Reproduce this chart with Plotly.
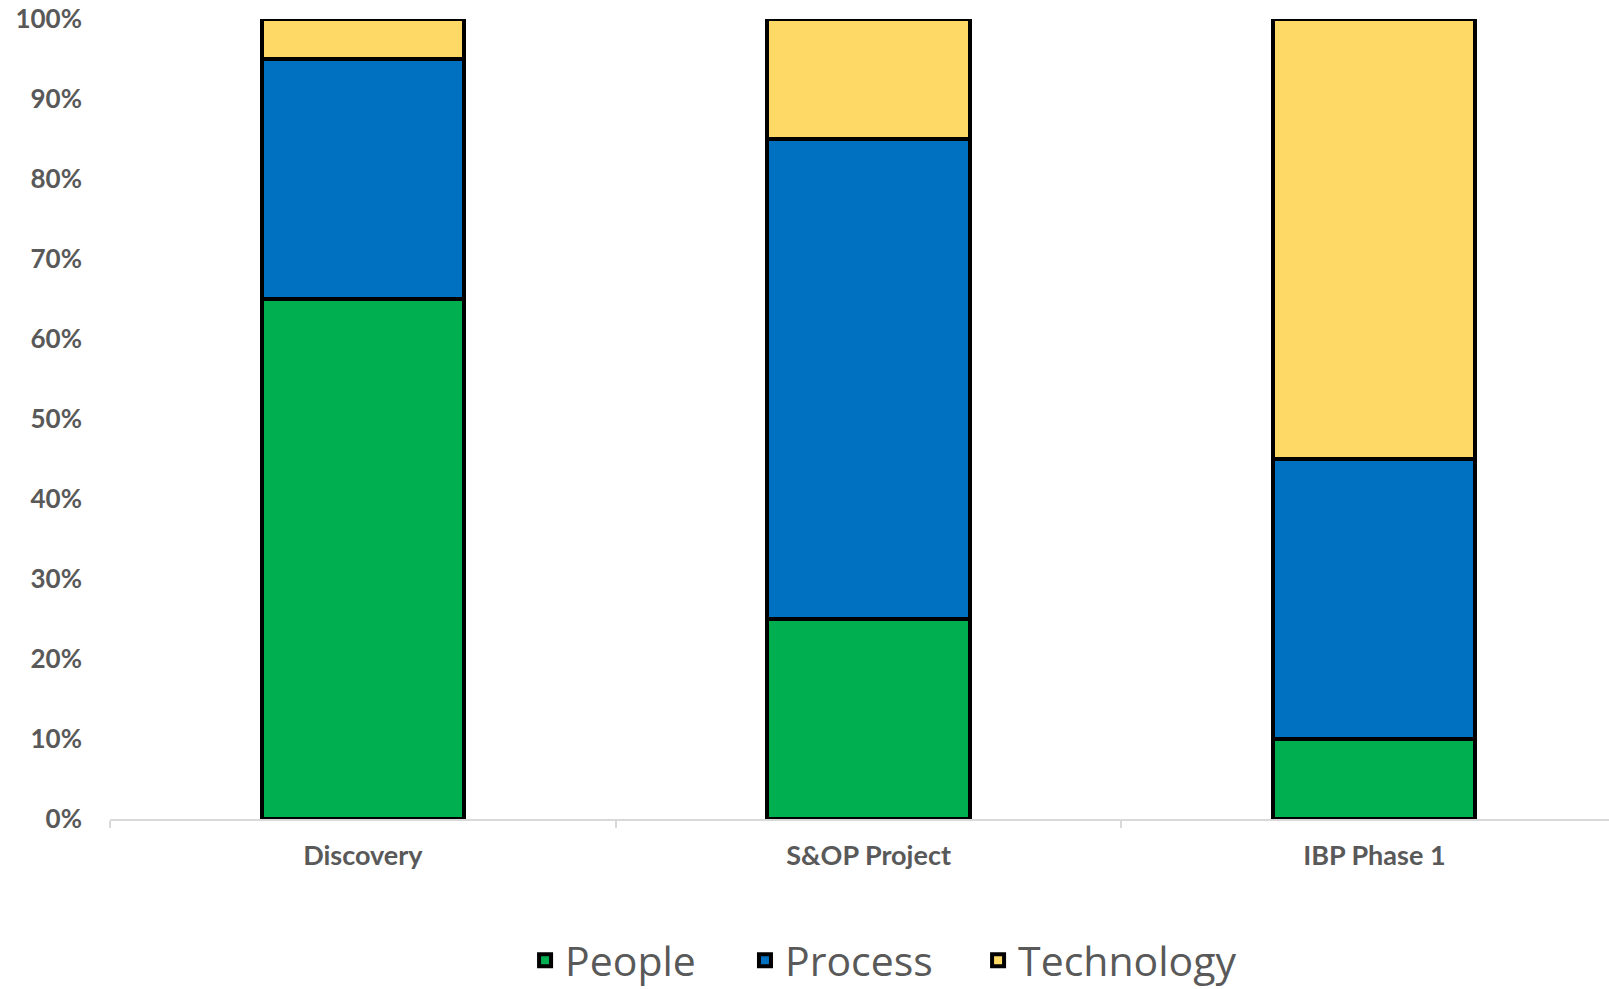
import plotly.graph_objects as go

categories = ["Discovery", "S&OP Project", "IBP Phase 1"]
people = [65, 25, 10]
process = [30, 60, 35]
technology = [5, 15, 55]
series_names = ["People", "Process", "Technology"]
series_colors = ["#00B050", "#0070C0", "#FFD966"]
y_ticks = [0, 10, 20, 30, 40, 50, 60, 70, 80, 90, 100]
y_tick_labels = [f"{v}%" for v in y_ticks]

legend_ids = ["legend", "legend2", "legend3"]
legend_x = [0.2769, 0.4236, 0.5791]

fig = go.Figure()
for name, vals, col, lid in zip(series_names, [people, process, technology], series_colors, legend_ids):
    fig.add_trace(go.Bar(
        x=categories, y=vals, name=name,
        marker=dict(color=col, line=dict(color="black", width=4)),
        cliponaxis=False, legend=lid,
    ))

legend_font = dict(family="Open Sans", size=41, color="#595959")
legend_layout = {}
for lid, lx in zip(legend_ids, legend_x):
    legend_layout[lid] = dict(orientation="h", x=lx, xanchor="left", y=-0.177, yanchor="middle",
                              font=legend_font, bgcolor="rgba(0,0,0,0)")

fig.update_layout(
    barmode="stack",
    bargap=0.6,
    width=1609, height=989,
    margin=dict(l=110, r=0, t=19, b=170, autoexpand=False),
    plot_bgcolor="white", paper_bgcolor="white",
    showlegend=True,
    xaxis=dict(range=[-0.5, 2.464], showline=True, linecolor="#D9D9D9", linewidth=2,
               ticks="outside", tickson="boundaries", ticklen=7, tickcolor="#D9D9D9",
               tickwidth=2, ticklabelstandoff=12,
               tickfont=dict(family="Lato", size=27, color="#595959", weight="bold"),
               showgrid=False),
    yaxis=dict(range=[0, 100], tickvals=y_ticks, ticktext=y_tick_labels,
               showgrid=False, zeroline=False, showline=False, ticks="",
               ticklabelstandoff=27,
               tickfont=dict(family="Lato", size=26, color="#595959", weight="bold")),
    **legend_layout,
)

fig.write_html("out.html", config={"displayModeBar": False},
               post_script="document.body.style.margin='0px';document.body.style.overflow='hidden';")
